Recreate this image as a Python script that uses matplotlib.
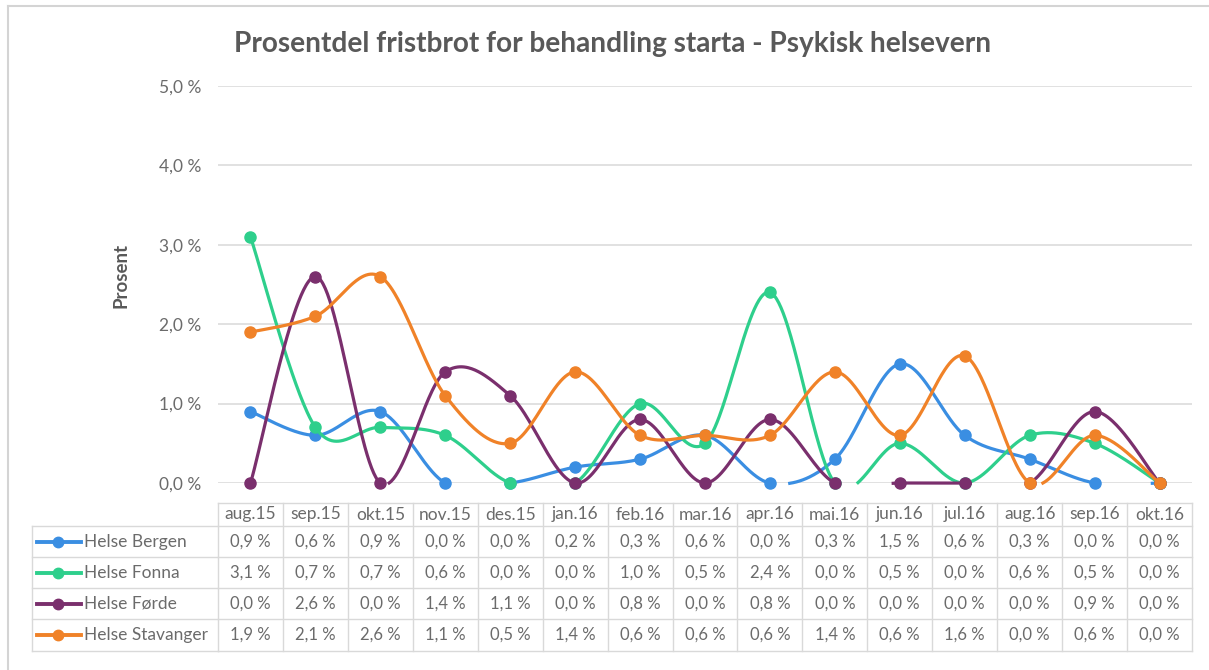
import numpy as np
import matplotlib
matplotlib.use('Agg')
import matplotlib.pyplot as plt
from matplotlib.transforms import blended_transform_factory
from matplotlib.lines import Line2D

# Data (percent)
months = ['aug.15', 'sep.15', 'okt.15', 'nov.15', 'des.15', 'jan.16', 'feb.16', 'mar.16',
          'apr.16', 'mai.16', 'jun.16', 'jul.16', 'aug.16', 'sep.16', 'okt.16']
bergen = [0.9, 0.6, 0.9, 0.0, 0.0, 0.2, 0.3, 0.6, 0.0, 0.3, 1.5, 0.6, 0.3, 0.0, 0.0]
fonna = [3.1, 0.7, 0.7, 0.6, 0.0, 0.0, 1.0, 0.5, 2.4, 0.0, 0.5, 0.0, 0.6, 0.5, 0.0]
forde = [0.0, 2.6, 0.0, 1.4, 1.1, 0.0, 0.8, 0.0, 0.8, 0.0, 0.0, 0.0, 0.0, 0.9, 0.0]
stavanger = [1.9, 2.1, 2.6, 1.1, 0.5, 1.4, 0.6, 0.6, 0.6, 1.4, 0.6, 1.6, 0.0, 0.6, 0.0]

names = ['Helse Bergen', 'Helse Fonna', 'Helse Førde', 'Helse Stavanger']
series = [bergen, fonna, forde, stavanger]
colors = ['#3a8ee2', '#2ecf8c', '#7a2f6d', '#f08228']

W, H = 1209, 670
FONT = ['Lato', 'DejaVu Sans']
TXT = '#6b6b6b'


def smooth(y, n=60):
    # Excel-like smoothed line: cubic Bezier through points (Catmull-Rom control points)
    y = np.asarray(y, dtype=float)
    x = np.arange(len(y), dtype=float)
    xs, ys = [], []
    for i in range(len(y) - 1):
        i0, i3 = max(i - 1, 0), min(i + 2, len(y) - 1)
        p0 = np.array([x[i], y[i]])
        p3 = np.array([x[i + 1], y[i + 1]])
        c1 = p0 + (np.array([x[i + 1], y[i + 1]]) - np.array([x[i0], y[i0]])) / 6
        c2 = p3 - (np.array([x[i3], y[i3]]) - np.array([x[i], y[i]])) / 6
        t = np.linspace(0, 1, n)[:, None]
        pts = (1 - t) ** 3 * p0 + 3 * (1 - t) ** 2 * t * c1 + 3 * (1 - t) * t ** 2 * c2 + t ** 3 * p3
        xs.append(pts[:, 0])
        ys.append(pts[:, 1])
    return np.concatenate(xs), np.concatenate(ys)


fig = plt.figure(figsize=(W / 100, H / 100), dpi=100)
fig.patch.set_facecolor('white')
ff = fig.transFigure

# chart border: only left and top edges are inside the cropped picture
fig.add_artist(Line2D([8 / W, 8 / W], [0, 1 - 6 / H], transform=ff, color='#d4d4d4', linewidth=1.5))
fig.add_artist(Line2D([8 / W, 1], [1 - 6 / H, 1 - 6 / H], transform=ff, color='#d4d4d4', linewidth=1.5))

ax = fig.add_axes([218 / W, 1 - 483 / H, (1192 - 218) / W, (483 - 86) / H])
ax.set_xlim(-0.5, len(months) - 0.5)
ax.set_ylim(0, 5)
for s in ax.spines.values():
    s.set_visible(False)
ax.set_xticks([])
ax.set_yticks(np.arange(0, 5.1, 1))
ax.set_yticklabels([f'{v:.1f} %'.replace('.', ',') for v in np.arange(0, 5.1, 1)],
                   fontsize=12.5, color=TXT, family=FONT)
ax.tick_params(axis='y', length=0, pad=12)
ax.grid(axis='y', color='#dcdcdc', linewidth=1.2)
ax.set_axisbelow(True)

x = np.arange(len(months))
for k, (vals, col) in enumerate(zip(series, colors)):
    sx, sy = smooth(vals)
    sy = np.where(sy < -0.004, np.nan, sy)  # Excel clips the curve at the axis minimum
    ax.plot(sx, sy, color=col, linewidth=2.3, zorder=3 + k, clip_on=False)
    ax.plot(x, vals, 'o', color=col, markersize=8, zorder=3 + k, clip_on=False)

fig.text(613 / W, 1 - 44 / H, 'Prosentdel fristbrot for behandling starta - Psykisk helsevern',
         ha='center', va='center', fontsize=20.2, fontweight='bold', color='#595959', family=FONT)
fig.text(121 / W, 1 - 275 / H, 'Prosent', rotation=90, ha='center', va='center',
         fontsize=13.5, fontweight='bold', color='#595959', family=FONT)

# data table under the plot
tr = blended_transform_factory(ax.transData, fig.transFigure)
rows_px = [503, 526, 557, 588, 619, 651]
gy = [1 - r / H for r in rows_px]
grid_col = '#d9d9d9'

# vertical lines between month columns
for i in range(len(months) + 1):
    fig.add_artist(Line2D([i - 0.5, i - 0.5], [gy[0], gy[-1]], transform=tr, color=grid_col, linewidth=1))
# horizontal lines
for j, yy in enumerate(gy):
    fig.add_artist(Line2D([-0.5, len(months) - 0.5], [yy, yy], transform=tr, color=grid_col, linewidth=1))
    if j >= 1:
        fig.add_artist(Line2D([32 / W, 218 / W], [yy, yy], transform=ff, color=grid_col, linewidth=1))
fig.add_artist(Line2D([32 / W, 32 / W], [gy[1], gy[-1]], transform=ff, color=grid_col, linewidth=1))

for i, m in enumerate(months):
    fig.text(i, (gy[0] + gy[1]) / 2, m, transform=tr, ha='center', va='center',
             fontsize=12.5, color=TXT, family=FONT)

for j, (name, vals, col) in enumerate(zip(names, series, colors)):
    yc = (gy[j + 1] + gy[j + 2]) / 2
    fig.add_artist(Line2D([37 / W, 81 / W], [yc, yc], transform=ff, color=col, linewidth=2.8))
    fig.add_artist(Line2D([58 / W], [yc], transform=ff, color=col, marker='o', markersize=7.5))
    fig.text(84 / W, yc, name, transform=ff, ha='left', va='center', fontsize=12.5, color=TXT, family=FONT)
    for i, v in enumerate(vals):
        fig.text(i, yc, f'{v:.1f} %'.replace('.', ','), transform=tr, ha='center', va='center',
                 fontsize=12, color=TXT, family=FONT)

fig.savefig('out.png', dpi=100)
